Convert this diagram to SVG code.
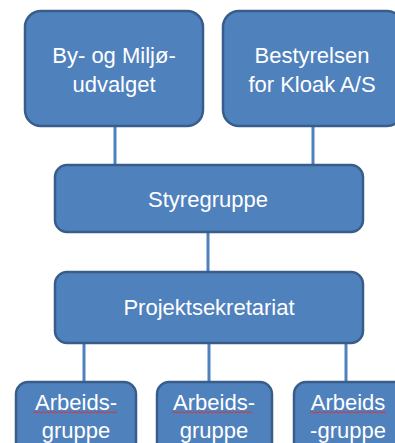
<svg xmlns="http://www.w3.org/2000/svg" width="395" height="443" viewBox="0 0 395 443">
<style>
.box{fill:#4F81BD;stroke:#385D8A;stroke-width:2.5}
.t{fill:#fff;font-family:"Liberation Sans",Arial,sans-serif;font-size:22px;text-anchor:middle}
.c{stroke:#4F81BD;stroke-width:3;fill:none}
.sq{stroke:#E03030;stroke-width:1;fill:none}
</style>
<rect width="395" height="443" fill="#fff"/>
<g id="connectors">
<line class="c" x1="115" y1="126" x2="115" y2="166"/>
<line class="c" x1="313" y1="126" x2="313" y2="166"/>
<line class="c" x1="208" y1="232" x2="208" y2="272"/>
<line class="c" x1="84" y1="343" x2="84" y2="382"/>
<line class="c" x1="209" y1="343" x2="209" y2="382"/>
<line class="c" x1="346" y1="343" x2="346" y2="382"/>
</g>
<g id="by-og-miljo">
<rect class="box" x="25" y="11" width="178" height="115" rx="16"/>
<text class="t" x="114" y="63">By- og Miljø-</text>
<text class="t" x="114" y="92">udvalget</text>
</g>
<g id="bestyrelsen">
<rect class="box" x="223" y="11" width="180" height="115" rx="16"/>
<text class="t" x="312" y="63">Bestyrelsen</text>
<text class="t" x="312" y="92">for Kloak A/S</text>
</g>
<g id="styregruppe">
<rect class="box" x="55" y="165" width="308" height="67" rx="12"/>
<text class="t" x="208" y="207">Styregruppe</text>
</g>
<g id="projektsekretariat">
<rect class="box" x="55" y="272" width="308" height="71" rx="12"/>
<text class="t" x="209" y="315">Projektsekretariat</text>
</g>
<g id="arbeidsgruppe-1">
<rect class="box" x="16" y="382" width="120" height="80" rx="12"/>
<text class="t" x="76" y="410">Arbeids-</text>
<text class="t" x="76" y="438">gruppe</text>
<path class="sq" d="M33 413 l2 -1.5 l2 1.5 l2 -1.5 l2 1.5 l2 -1.5 l2 1.5 l2 -1.5 l2 1.5 l2 -1.5 l2 1.5 l2 -1.5 l2 1.5 l2 -1.5 l2 1.5 l2 -1.5 l2 1.5 l2 -1.5 l2 1.5 l2 -1.5 l2 1.5 l2 -1.5 l2 1.5 l2 -1.5 l2 1.5 l2 -1.5 l2 1.5 l2 -1.5 l2 1.5 l2 -1.5 l2 1.5 l2 -1.5 l2 1.5 l2 -1.5 l2 1.5 l2 -1.5 l2 1.5 l2 -1.5 l2 1.5 l2 -1.5 l2 1.5 l2 -1.5 l2 1.5"/>
</g>
<g id="arbeidsgruppe-2">
<rect class="box" x="157" y="382" width="115" height="80" rx="12"/>
<text class="t" x="214" y="410">Arbeids-</text>
<text class="t" x="214" y="438">gruppe</text>
<path class="sq" d="M172 413 l2 -1.5 l2 1.5 l2 -1.5 l2 1.5 l2 -1.5 l2 1.5 l2 -1.5 l2 1.5 l2 -1.5 l2 1.5 l2 -1.5 l2 1.5 l2 -1.5 l2 1.5 l2 -1.5 l2 1.5 l2 -1.5 l2 1.5 l2 -1.5 l2 1.5 l2 -1.5 l2 1.5 l2 -1.5 l2 1.5 l2 -1.5 l2 1.5 l2 -1.5 l2 1.5 l2 -1.5 l2 1.5 l2 -1.5 l2 1.5 l2 -1.5 l2 1.5 l2 -1.5 l2 1.5 l2 -1.5 l2 1.5 l2 -1.5 l2 1.5"/>
</g>
<g id="arbeidsgruppe-3">
<rect class="box" x="294" y="382" width="120" height="80" rx="12"/>
<text class="t" x="348" y="410">Arbeids</text>
<text class="t" x="348" y="438">-gruppe</text>
<path class="sq" d="M310 413 l2 -1.5 l2 1.5 l2 -1.5 l2 1.5 l2 -1.5 l2 1.5 l2 -1.5 l2 1.5 l2 -1.5 l2 1.5 l2 -1.5 l2 1.5 l2 -1.5 l2 1.5 l2 -1.5 l2 1.5 l2 -1.5 l2 1.5 l2 -1.5 l2 1.5 l2 -1.5 l2 1.5 l2 -1.5 l2 1.5 l2 -1.5 l2 1.5 l2 -1.5 l2 1.5 l2 -1.5 l2 1.5 l2 -1.5 l2 1.5 l2 -1.5 l2 1.5 l2 -1.5 l2 1.5 l2 -1.5 l2 1.5"/>
</g>
</svg>
